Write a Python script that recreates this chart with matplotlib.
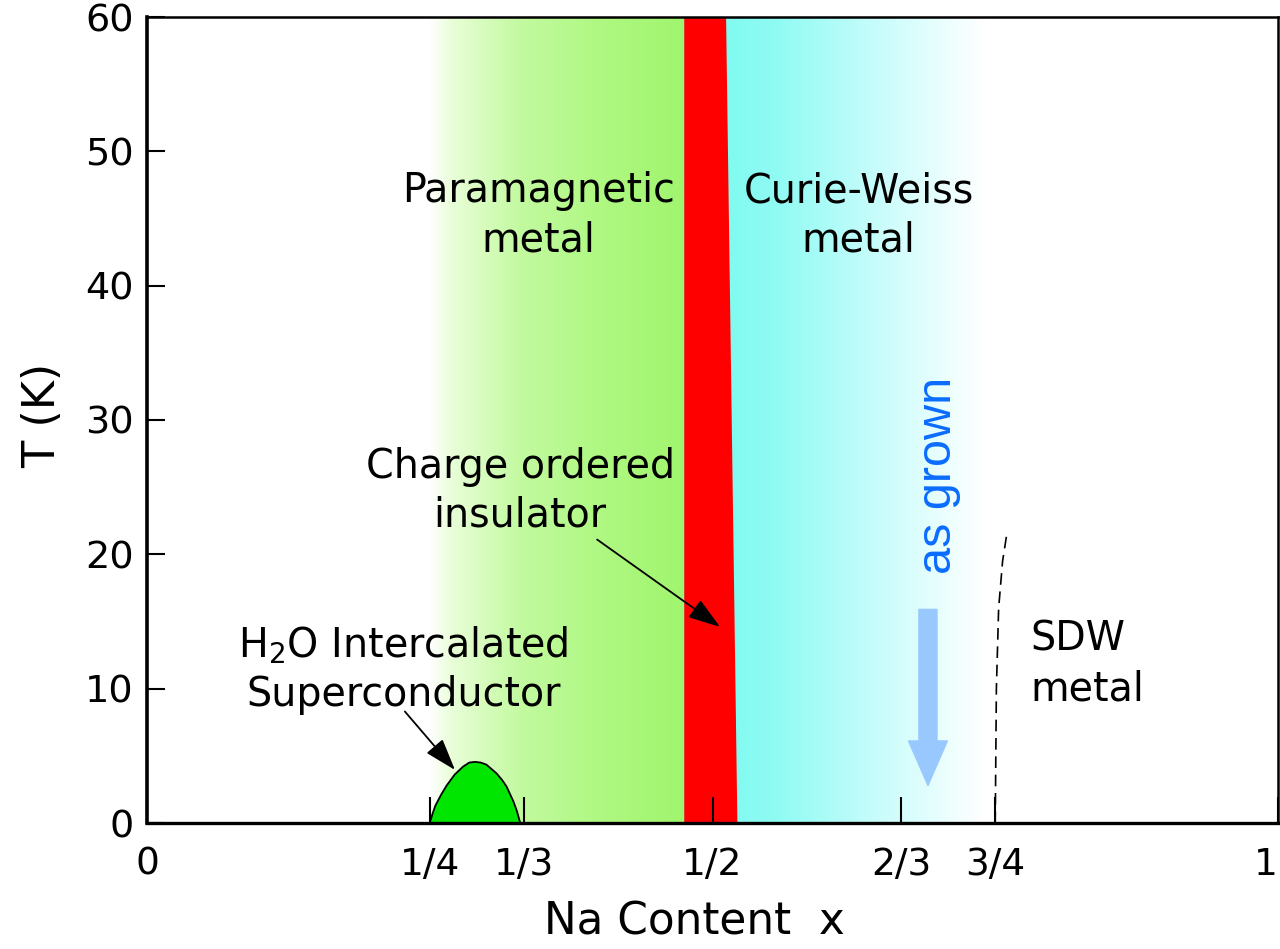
import numpy as np
import matplotlib
matplotlib.use("Agg")
import matplotlib.pyplot as plt
from matplotlib.patches import Polygon, FancyArrowPatch

plt.rcParams['font.family'] = ['DejaVu Sans']

# ---------------- data ----------------
x_ticks = [0, 1/4, 1/3, 1/2, 2/3, 3/4, 1]
x_ticklabels = ['0', '1/4', '1/3', '1/2', '2/3', '3/4', '1']
y_ticks = [0, 10, 20, 30, 40, 50, 60]

# phase-region boundaries (Na content x, temperature T)
para_start = 0.25
co_left = 0.475
co_right_top = 0.512
co_right_bottom = 0.522
cw_end = 0.74
t_max = 60

# superconducting dome
dome_x = [0.250, 0.2525, 0.255, 0.260, 0.265, 0.272, 0.2795, 0.285, 0.290,
          0.295, 0.300, 0.309, 0.314, 0.318, 0.324, 0.327, 0.330]
dome_T = [0.0, 0.7, 1.3, 2.1, 2.8, 3.6, 4.2, 4.5, 4.55,
          4.5, 4.35, 3.7, 3.2, 2.7, 1.6, 0.9, 0.0]

# SDW boundary (dashed)
sdw_x = [0.750, 0.751, 0.753, 0.7565, 0.760]
sdw_T = [0.0, 10.0, 16.0, 19.5, 21.4]

# "as grown" arrow
grown_x = 0.6905
grown_T_start = 15.9
grown_T_end = 2.8

# colours
green_stops_x = [0.25, 0.27, 0.33, 0.40, 0.475]
green_stops_c = [(255, 255, 255), (232, 254, 215), (195, 250, 160), (175, 248, 130), (160, 245, 110)]
cyan_stops_x = [0.512, 0.56, 0.63, 0.69, 0.74]
cyan_stops_c = [(128, 250, 240), (145, 251, 243), (190, 252, 250), (225, 254, 253), (255, 255, 255)]

# ---------------- figure ----------------
fig = plt.figure(figsize=(12.8, 9.49), dpi=100)
L, R, T, B = 147, 1278, 17, 823
ax = fig.add_axes([L/1280, 1 - B/949, (R - L)/1280, (B - T)/949])
ax.set_xlim(0, 1)
ax.set_ylim(0, t_max)

# background gradient
xs = np.linspace(0, 1, 2000)
img = np.ones((1, xs.size, 3))
gsx = np.array(green_stops_x); gsc = np.array(green_stops_c) / 255
csx = np.array(cyan_stops_x); csc = np.array(cyan_stops_c) / 255
for k in range(3):
    gch = np.interp(xs, gsx, gsc[:, k])
    cch = np.interp(xs, csx, csc[:, k])
    ch = np.ones_like(xs)
    mg = (xs >= para_start) & (xs <= co_left)
    ch[mg] = gch[mg]
    mc = (xs >= co_left) & (xs <= cw_end)
    ch[mc] = cch[mc]
    img[0, :, k] = ch
ax.imshow(img, extent=[0, 1, 0, t_max], aspect='auto', zorder=0, interpolation='bilinear')

# charge ordered insulator band
ax.add_patch(Polygon([(co_left, 0), (co_left, t_max), (co_right_top, t_max), (co_right_bottom, 0)],
                     closed=True, facecolor='#ff0000', edgecolor='none', zorder=1))

# superconducting dome
ax.fill(dome_x, dome_T, facecolor='#00e600', edgecolor='black', linewidth=1.3, zorder=2)

# SDW dashed line
ax.plot(sdw_x, sdw_T, color='black', linewidth=1.2, dashes=(7, 4), zorder=2)

# as grown arrow
arr = FancyArrowPatch((grown_x, grown_T_start), (grown_x, grown_T_end),
                      arrowstyle='simple,head_width=28,head_length=32,tail_width=13',
                      mutation_scale=1, color='#99c8ff', shrinkA=0, shrinkB=0, zorder=3)
ax.add_patch(arr)
ax.text(0.700, 25.9, 'as grown', rotation=90, ha='center', va='center',
        color='#0a6cff', fontsize=35, family=['Liberation Sans', 'DejaVu Sans'], zorder=4)

# labels
fs = 28.5
ls = 1.3
ax.text(0.346, 45.2, 'Paramagnetic\nmetal', ha='center', va='center', fontsize=fs, linespacing=ls)
ax.text(0.629, 45.2, 'Curie-Weiss\nmetal', ha='center', va='center', fontsize=fs, linespacing=ls)
ax.text(0.330, 24.7, 'Charge ordered\ninsulator', ha='center', va='center', fontsize=fs, linespacing=ls)
ax.text(0.2265, 11.4, 'H$_2$O Intercalated\nSuperconductor', ha='center', va='center', fontsize=fs, linespacing=ls)
ax.text(0.781, 11.8, 'SDW\nmetal', ha='left', va='center', fontsize=fs, linespacing=ls)

# annotation arrows
ax.annotate('', xy=(0.2723, 3.95), xytext=(0.228, 8.3),
            arrowprops=dict(arrowstyle='-|>,head_length=0.9,head_width=0.3', color='black', lw=1.3,
                            shrinkA=0, shrinkB=0, mutation_scale=22), zorder=5)
ax.annotate('', xy=(0.5066, 14.6), xytext=(0.398, 21.1),
            arrowprops=dict(arrowstyle='-|>,head_length=0.9,head_width=0.3', color='black', lw=1.3,
                            shrinkA=0, shrinkB=0, mutation_scale=22), zorder=5)

# axes styling
ax.set_xticks(x_ticks)
ax.set_xticklabels(x_ticklabels)
ax.set_yticks(y_ticks)
ax.tick_params(axis='x', direction='in', length=19, width=1.5, pad=17, labelsize=27)
ax.tick_params(axis='y', direction='in', length=13, width=1.5, pad=9.5, labelsize=27.5)
ax.get_xticklabels()[-1].set_horizontalalignment('right')
for s in ['top', 'right']:
    ax.spines[s].set_linewidth(1.8)
ax.spines['left'].set_linewidth(2.6)
ax.spines['bottom'].set_linewidth(2.4)
for sp in ax.spines.values():
    sp.set_zorder(6)

fig.text(694/1280, 1 - 922/949, 'Na Content  x', ha='center', va='center', fontsize=31.5)
fig.text(43/1280, 1 - 415/949, 'T (K)', ha='center', va='center', fontsize=32, rotation=90)

fig.savefig('out.png', dpi=100)
